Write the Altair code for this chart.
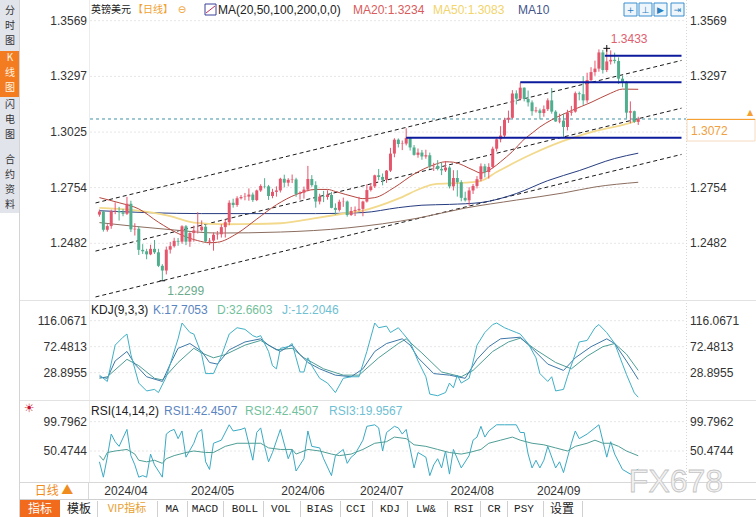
import altair as alt
import pandas as pd

# ---------------- data ----------------
OPEN = [1.2622,
 1.2637, 1.2548, 1.2566, 1.2638, 1.2640, 1.2633, 1.2626, 1.2675, 1.2550, 1.2553, 1.2450, 1.2443, 1.2428, 1.2455, 1.2438, 1.2372, 1.2349, 1.2451, 1.2468, 1.2494, 1.2490, 1.2565,
 1.2490, 1.2532, 1.2545, 1.2546, 1.2563, 1.2491, 1.2495, 1.2524, 1.2526, 1.2561, 1.2585, 1.2680, 1.2669, 1.2702, 1.2708, 1.2710, 1.2720, 1.2693, 1.2740, 1.2762, 1.2760, 1.2713, 1.2733,
 1.2740, 1.2797, 1.2778, 1.2792, 1.2794, 1.2723, 1.2729, 1.2744, 1.2796, 1.2766, 1.2686, 1.2710, 1.2708, 1.2718, 1.2655, 1.2645, 1.2685, 1.2686, 1.2620, 1.2640,
 1.2645, 1.2650, 1.2686, 1.2742, 1.2760, 1.2814, 1.2806, 1.2792, 1.2837, 1.2920, 1.2988, 1.2967, 1.2969, 1.2997, 1.2950, 1.2914, 1.2925, 1.2906, 1.2912, 1.2858, 1.2860, 1.2845, 1.2838,
 1.2852, 1.2760, 1.2801, 1.2780, 1.2704, 1.2692, 1.2740, 1.2762, 1.2795, 1.2858, 1.2830, 1.2855, 1.2944, 1.2990, 1.3008, 1.3085, 1.3095, 1.3214, 1.3188, 1.3242, 1.3187, 1.3170,
 1.3127, 1.3131, 1.3118, 1.3137, 1.3180, 1.3125, 1.3077, 1.3081, 1.3050, 1.3120, 1.3125, 1.3215, 1.3210, 1.3180, 1.3279, 1.3318, 1.3335, 1.3414, 1.3328, 1.3370, 1.3378,
 1.3372, 1.3286, 1.3270, 1.3120, 1.3127, 1.3075]
HIGH = [1.2647,
 1.2640, 1.2575, 1.2646, 1.2682, 1.2660, 1.2650, 1.2709, 1.2690, 1.2580, 1.2565, 1.2478, 1.2455, 1.2475, 1.2498, 1.2455, 1.2380, 1.2466, 1.2489, 1.2509, 1.2508, 1.2570, 1.2571,
 1.2536, 1.2568, 1.2634, 1.2594, 1.2575, 1.2508, 1.2535, 1.2542, 1.2575, 1.2598, 1.2692, 1.2700, 1.2712, 1.2718, 1.2728, 1.2750, 1.2730, 1.2744, 1.2770, 1.2800, 1.2767, 1.2748, 1.2760,
 1.2802, 1.2817, 1.2800, 1.2818, 1.2802, 1.2736, 1.2759, 1.2860, 1.2815, 1.2785, 1.2724, 1.2738, 1.2741, 1.2733, 1.2677, 1.2695, 1.2705, 1.2691, 1.2660, 1.2662,
 1.2709, 1.2690, 1.2770, 1.2775, 1.2817, 1.2845, 1.2823, 1.2840, 1.2948, 1.2995, 1.2994, 1.2984, 1.3044, 1.3000, 1.2962, 1.2945, 1.2938, 1.2939, 1.2925, 1.2875, 1.2888, 1.2877, 1.2884,
 1.2859, 1.2839, 1.2839, 1.2790, 1.2734, 1.2756, 1.2772, 1.2810, 1.2872, 1.2870, 1.2873, 1.2954, 1.2995, 1.3054, 1.3095, 1.3130, 1.3230, 1.3229, 1.3266, 1.3243, 1.3228, 1.3180,
 1.3148, 1.3140, 1.3155, 1.3190, 1.3240, 1.3132, 1.3115, 1.3115, 1.3134, 1.3153, 1.3223, 1.3223, 1.3298, 1.3315, 1.3342, 1.3374, 1.3429, 1.3426, 1.3434, 1.3424, 1.3413,
 1.3390, 1.3302, 1.3275, 1.3175, 1.3130, 1.3100]
LOW = [1.2612,
 1.2539, 1.2539, 1.2553, 1.2624, 1.2593, 1.2614, 1.2620, 1.2537, 1.2520, 1.2425, 1.2430, 1.2404, 1.2424, 1.2430, 1.2366, 1.2299, 1.2330, 1.2432, 1.2461, 1.2470, 1.2480, 1.2473,
 1.2465, 1.2490, 1.2530, 1.2540, 1.2487, 1.2473, 1.2446, 1.2500, 1.2510, 1.2510, 1.2570, 1.2656, 1.2660, 1.2696, 1.2692, 1.2690, 1.2684, 1.2688, 1.2733, 1.2750, 1.2694, 1.2702, 1.2710,
 1.2730, 1.2755, 1.2760, 1.2776, 1.2709, 1.2695, 1.2700, 1.2736, 1.2758, 1.2656, 1.2672, 1.2683, 1.2695, 1.2653, 1.2622, 1.2637, 1.2660, 1.2612, 1.2616, 1.2615,
 1.2638, 1.2614, 1.2681, 1.2735, 1.2752, 1.2790, 1.2765, 1.2777, 1.2830, 1.2902, 1.2950, 1.2937, 1.2960, 1.2935, 1.2910, 1.2900, 1.2890, 1.2895, 1.2845, 1.2835, 1.2838, 1.2815, 1.2830,
 1.2750, 1.2740, 1.2710, 1.2687, 1.2686, 1.2665, 1.2723, 1.2750, 1.2785, 1.2804, 1.2798, 1.2848, 1.2930, 1.2975, 1.3000, 1.3070, 1.3090, 1.3160, 1.3180, 1.3175, 1.3150, 1.3105,
 1.3120, 1.3087, 1.3100, 1.3128, 1.3115, 1.3075, 1.3068, 1.3002, 1.3033, 1.3105, 1.3120, 1.3180, 1.3158, 1.3168, 1.3272, 1.3300, 1.3320, 1.3311, 1.3318, 1.3355, 1.3360,
 1.3260, 1.3244, 1.3091, 1.3068, 1.3070, 1.3060]
CLOSE = [1.2637,
 1.2548, 1.2566, 1.2638, 1.2640, 1.2633, 1.2626, 1.2675, 1.2550, 1.2553, 1.2450, 1.2443, 1.2428, 1.2455, 1.2438, 1.2372, 1.2349, 1.2451, 1.2468, 1.2494, 1.2490, 1.2565, 1.2490,
 1.2532, 1.2545, 1.2546, 1.2563, 1.2491, 1.2495, 1.2524, 1.2526, 1.2561, 1.2585, 1.2680, 1.2669, 1.2702, 1.2708, 1.2710, 1.2720, 1.2693, 1.2740, 1.2762, 1.2760, 1.2713, 1.2733, 1.2740,
 1.2797, 1.2778, 1.2792, 1.2794, 1.2723, 1.2729, 1.2744, 1.2796, 1.2766, 1.2686, 1.2710, 1.2708, 1.2718, 1.2655, 1.2645, 1.2685, 1.2686, 1.2620, 1.2640, 1.2645,
 1.2650, 1.2686, 1.2742, 1.2760, 1.2814, 1.2806, 1.2792, 1.2837, 1.2920, 1.2988, 1.2967, 1.2969, 1.2997, 1.2950, 1.2914, 1.2925, 1.2906, 1.2912, 1.2858, 1.2860, 1.2845, 1.2838, 1.2852,
 1.2760, 1.2801, 1.2780, 1.2704, 1.2692, 1.2740, 1.2762, 1.2795, 1.2858, 1.2830, 1.2855, 1.2944, 1.2990, 1.3008, 1.3085, 1.3095, 1.3214, 1.3188, 1.3242, 1.3187, 1.3170, 1.3127,
 1.3131, 1.3118, 1.3137, 1.3180, 1.3125, 1.3077, 1.3081, 1.3050, 1.3120, 1.3125, 1.3215, 1.3210, 1.3180, 1.3279, 1.3318, 1.3335, 1.3414, 1.3328, 1.3370, 1.3378, 1.3372,
 1.3286, 1.3270, 1.3120, 1.3127, 1.3075, 1.3089]

MONTH_LABELS = ["2024/04", "2024/05", "2024/06", "2024/07", "2024/08", "2024/09"]
MONTH_IDX = [1, 23, 46, 66, 89, 111]

PRICE_TICKS = [1.3569, 1.3297, 1.3025, 1.2754, 1.2482]
PRICE_LABELS = ["1.3569", "1.3297", "1.3025", "1.2754", "1.2482"]
KDJ_TICKS = [116.0671, 72.4813, 28.8955]
KDJ_LABELS = ["116.0671", "72.4813", "28.8955"]
RSI_TICKS = [99.7962, 50.4744]
RSI_LABELS = ["99.7962", "50.4744"]

MA20_D = [0, 5, 10, 15, 20, 25, 28, 30, 35, 40, 45, 50, 55, 58, 60, 65, 67, 70, 75, 80, 85, 88, 90, 95, 97, 100, 102, 105, 108, 110, 112, 115, 120, 125, 130, 133, 137]
MA20_V = [1.2705, 1.2680, 1.2650, 1.2585, 1.2530, 1.2495, 1.2485, 1.2487, 1.2530, 1.2600, 1.2670, 1.2720, 1.2745, 1.2745, 1.2735, 1.2708, 1.2700, 1.2705, 1.2755, 1.2820,
          1.2865, 1.2880, 1.2878, 1.2840, 1.2825, 1.2850, 1.2880, 1.2930, 1.2990, 1.3020, 1.3050, 1.3085, 1.3130, 1.3170, 1.3215, 1.3235, 1.3234]
MA50_D = [0, 8, 18, 24, 32, 46, 55, 63, 67, 76, 82, 85, 93, 97, 101, 110, 118, 126, 135, 137]
MA50_V = [1.2655, 1.2645, 1.2615, 1.2583, 1.2575, 1.2580, 1.2605, 1.2630, 1.2642, 1.2700, 1.2752, 1.2770, 1.2778, 1.2787, 1.2830, 1.2918, 1.2982, 1.3030, 1.3070, 1.3083]
MA100_D = [0, 26, 38, 55, 67, 76, 82, 89, 97, 106, 114, 122, 131, 137]
MA100_V = [1.2641, 1.2627, 1.2627, 1.2627, 1.2632, 1.2656, 1.2668, 1.2672, 1.2681, 1.2725, 1.2788, 1.2837, 1.2896, 1.2922]
MA200_D = [0, 19, 30, 46, 63, 81, 93, 106, 118, 126, 137]
MA200_V = [1.2583, 1.2547, 1.2532, 1.2537, 1.2557, 1.2605, 1.2654, 1.2693, 1.2728, 1.2757, 1.2780]

CHANNEL_D = [-1, 148]
CHANNEL_A = [1.2679, 1.3375]
CHANNEL_B = [1.2444, 1.3142]
CHANNEL_C = [1.2220, 1.2916]

LEVEL_P = [1.3398, 1.3268, 1.2998]
LEVEL_START = [128.5, 107, 78]
LEVEL_END = [148, 148, 148]
LAST_LINE = 1.3089

K_D = [0, 2, 4, 7, 9, 12, 16, 18, 20, 23, 26, 28, 30, 33, 37, 41, 43, 46, 48, 49, 51, 53, 56, 60, 64, 67, 70, 73, 77, 79, 81, 85, 89, 93, 96, 99, 102, 107, 110, 114, 118, 121, 125, 129, 131, 134, 137]
K_V = [22, 19.5, 48.6, 64.5, 43.3, 22.1, 14.2, 43.3, 69.8, 77.8, 64.5, 46, 43.3, 67.2, 80.4, 85.7, 75.1, 64.5, 72.5, 75.1, 59.2, 46, 35.4, 24.8, 22.1, 35.4, 64.5, 77.8, 85.7, 75.1,
       53.9, 27.4, 24.8, 19.5, 51.3, 72.5, 85.7, 88.4, 69.8, 43.3, 32.7, 53.9, 72.5, 85.7, 77.8, 48.6, 17.7053]
D_D = [0, 2, 7, 10, 14, 16, 20, 24, 26, 29, 32, 37, 41, 45, 49, 52, 57, 62, 66, 71, 76, 78, 82, 87, 92, 95, 100, 104, 107, 111, 116, 120, 124, 128, 131, 134, 137]
D_V = [19.5, 22.1, 51.3, 40.7, 19.5, 16.8, 46, 69.8, 61.9, 53.9, 59.2, 75.1, 83, 67.2, 69.8, 53.9, 35.4, 24.8, 24.8, 53.9, 77.8, 85.7, 61.9, 30.1, 22.1, 32.7, 64.5, 80.4, 86.8, 67.2,
       46, 35.4, 56.6, 72.5, 77.8, 60, 32.6603]
J_D = [0, 2, 4, 6, 7, 8, 10, 12, 14, 15, 17, 20, 21, 23, 24, 26, 27, 29, 31, 33, 35, 37, 39, 40, 41, 43, 44, 45, 46, 48, 49, 50, 51, 52, 53, 54, 56, 58, 60, 62, 64, 66, 68, 70, 71,
       73, 74, 76, 77, 79, 81, 83, 84, 86, 88, 89, 90, 91, 92, 94, 96, 98, 100, 101, 103, 104, 106, 107, 109, 111, 112, 114, 115, 116, 118, 119, 122, 124, 126, 127, 129, 131, 134, 136, 137]
J_V = [24.8, 14.2, 75.1, 88.4, 93.7, 59.2, 11.5, -1.7, 0.9, -4.4, 22.1, 85.7, 112.2, 96.3, 93.7, 59.2, 27.4, 27.4, 56.6, 93.7, 104.3, 101.6, 91, 88.4, 91, 64.5, 40.7, 35.4, 69.8,
       72.5, 77.8, 53.9, 30.1, 30.1, 53.9, 40.7, 19.5, 11.5, -4.4, 19.5, 22.1, 22.1, 64.5, 112.2, 104.3, 107, 96.3, 104.3, 96.3, 80.4, 48.6, 22.1, -7, -9.7, -4.4, 11.5, 3.6,
       24.8, 11.5, 19.5, 75.1, 96.3, 109.6, 112.2, 104.3, 101.6, 96.3, 93.7, 77.8, 53.9, 27.4, 14.2, 22.1, -1.7, 0.9, 22.1, 80.4, 83, 104.3, 109.6, 96, 78, 26, -5, -12.2046]

RSI1_D = [0, 1, 2, 4, 7, 9, 10, 12, 14, 16, 17, 19, 22, 24, 27, 29, 32, 35, 38, 41, 43, 46, 49, 50, 53, 56, 59, 61, 64, 67, 70, 73, 75, 78, 80, 83, 86, 89, 92, 94, 97, 99,
          102, 105, 107, 110, 113, 116, 119, 121, 124, 126, 128, 130, 132, 134, 137]
RSI1_V = [42.7, 34.9, 47.9, 50.5, 53.1, 45.3, 34.9, 32.3, 34.9, 29.7, 37.5, 42.7, 47.9, 50.5, 47.9, 47.9, 58.3, 63.5, 63.5, 63.5, 55.7, 53.1, 53.1, 45.3, 53.1, 50.5, 45.3,
          42.7, 45.3, 53.1, 63.5, 66.1, 73.9, 71.3, 60.9, 58.3, 53.1, 47.9, 45.3, 47.9, 53.1, 63.5, 68.7, 73.9, 68.7, 63.5, 60.9, 55.7, 50.5, 58.3, 63.5, 68.7, 63.5, 63.5,
          58.3, 50.5, 42.4507]
RSI3_D = [0, 1, 2, 3, 4, 5, 7, 8, 9, 10, 11, 12, 13, 14, 16, 17, 18, 19, 20, 21, 22, 24, 25, 26, 27, 28, 29, 31, 33, 34, 36, 37, 39, 40, 41, 42, 43, 44, 46, 48, 49, 50, 52,
          53, 54, 56, 57, 59, 60, 62, 63, 64, 65, 67, 68, 70, 71, 72, 73, 75, 76, 77, 78, 80, 81, 83, 84, 85, 86, 87, 88, 89, 90, 92, 94, 95, 96, 97, 98, 99, 101, 103, 106,
          107, 108, 109, 110, 111, 112, 113, 114, 116, 117, 118, 120, 121, 122, 124, 126, 127, 129, 130, 131, 133, 135, 137]
RSI3_V = [32.3, 6.4, 40.1, 79, 66.1, 58.3, 86.8, 42.7, 27.1, 6.4, 9, 6.4, 45.3, 27.1, 6.4, 79, 84.2, 86.8, 71.3, 84.2, 40.1, 63.5, 81.6, 86.8, 32.3, 19.4, 63.5, 68.7, 94.6,
          84.2, 86.8, 89.4, 35, 81.6, 89.4, 58.3, 32.3, 47.9, 86.8, 37.5, 53.1, 16.8, 37.5, 84.2, 58.3, 55.7, 37.5, 9, 42.7, 53.1, 29.7, 40.1, 45.3, 68.7, 92, 94.6, 89.4,
          50.5, 81.6, 92, 89.4, 79, 86.8, 22, 47.9, 40.1, 9, 27.1, 37.5, 22, 50.5, 11.6, 53.1, 22, 42.7, 68.7, 73.9, 92, 73.9, 84.2, 94.6, 94.6, 94.6, 81.6, 81.6, 45.3, 22,
          34.9, 22, 34.9, 58.3, 22, 32.3, 14.2, 63.5, 84.2, 71.3, 79, 89.4, 94.6, 40.1, 66.1, 45.3, 19.4, 11.6, 19.9567]

SIDEBAR_GROUPS = [["分", "时", "图"], ["K", "线", "图"], ["闪", "电", "图"], ["合", "约", "资", "料"]]
SIDEBAR_TOPS = [6, 53, 100, 155]

# ---------------- styling ----------------
UP = "#e5566c"
DOWN = "#4fae8d"
NUM_FONT = "Liberation Sans"
CJK_FONT = "Noto Sans CJK SC"
TAB_FONT = "Liberation Mono"

xs = alt.Scale(domain=[-1, 148], range=[90.5, 686.5], zero=False, nice=False)
ms = alt.Scale(domain=[1.2482, 1.3569], range=[243.3, 20.7], zero=False, nice=False)
ks = alt.Scale(domain=[28.8955, 116.0671], range=[372.7, 320.7], zero=False, nice=False)
rs = alt.Scale(domain=[50.4744, 99.7962], range=[451, 421.7], zero=False, nice=False)

ONE = pd.DataFrame({"k": [0]})


def XD(f="d"):
    return alt.X(f, type="quantitative", scale=xs, axis=None)


def YS(f, sc):
    return alt.Y(f, type="quantitative", scale=sc, axis=None)


def T(x, y, s, color="#333333", size=12, font=NUM_FONT, align="left", baseline="middle", **kw):
    return alt.Chart(ONE).mark_text(text=s, color=color, fontSize=size, font=font,
                                    align=align, baseline=baseline, **kw).encode(
        x=alt.value(x), y=alt.value(y))


def R(x1, y1, x2, y2, fill, stroke=None, sw=1):
    kw = {"fill": fill}
    if stroke is not None:
        kw["stroke"] = stroke
        kw["strokeWidth"] = sw
    return alt.Chart(ONE).mark_rect(**kw).encode(
        x=alt.value(x1), x2=alt.value(x2), y=alt.value(y1), y2=alt.value(y2))


def L(x1, y1, x2, y2, color, sw=1, dash=None):
    kw = {"color": color, "strokeWidth": sw}
    if dash is not None:
        kw["strokeDash"] = dash
    return alt.Chart(ONE).mark_rule(**kw).encode(
        x=alt.value(x1), x2=alt.value(x2), y=alt.value(y1), y2=alt.value(y2))


layers = []

# ---------------- frame / separators ----------------
layers += [
    R(0, 0, 19, 213, "#e2e4ec"),
    R(0, 51, 19, 97, "#f47c20"),
    L(19.5, 0, 19.5, 517, "#d4d4d4"),
    L(89.5, 0, 89.5, 482, "#ececec"),
    L(686.5, 0, 686.5, 482, "#d6d6d6", 1, [1, 2]),
    L(20, 300.5, 756, 300.5, "#e2e2e2"),
    L(20, 400.5, 756, 400.5, "#e2e2e2"),
    L(20, 482.5, 756, 482.5, "#d8d8d8"),
    L(20, 499.5, 756, 499.5, "#d0d0d0"),
    L(88.5, 482, 88.5, 499, "#d8d8d8"),
]

# grid lines and axis labels
pt = pd.DataFrame({"p": PRICE_TICKS, "lab": PRICE_LABELS})
kt = pd.DataFrame({"p": KDJ_TICKS, "lab": KDJ_LABELS})
rt = pd.DataFrame({"p": RSI_TICKS, "lab": RSI_LABELS})
for df, sc in [(pt, ms), (kt, ks), (rt, rs)]:
    layers.append(alt.Chart(df).mark_rule(color="#e6e6e6", strokeDash=[2, 2]).encode(
        y=YS("p", sc), x=alt.value(90), x2=alt.value(686)))
    layers.append(alt.Chart(df).mark_text(align="right", baseline="middle", fontSize=12,
                                          font=NUM_FONT, color="#333333").encode(
        y=YS("p", sc), x=alt.value(87), text="lab:N"))
    layers.append(alt.Chart(df).mark_text(align="left", baseline="middle", fontSize=12,
                                          font=NUM_FONT, color="#333333").encode(
        y=YS("p", sc), x=alt.value(690), text="lab:N"))

# current price dashed line
lastdf = pd.DataFrame({"p": [LAST_LINE]})
layers.append(alt.Chart(lastdf).mark_rule(color="#3f93a6", strokeDash=[3, 3], strokeWidth=1).encode(
    y=YS("p", ms), x=alt.value(90), x2=alt.value(686)))

# channel lines
chdf = pd.DataFrame({"d": CHANNEL_D * 3, "p": CHANNEL_A + CHANNEL_B + CHANNEL_C,
                     "g": ["A", "A", "B", "B", "C", "C"]})
layers.append(alt.Chart(chdf).mark_line(color="#1a1a1a", strokeWidth=1, strokeDash=[4, 3]).encode(
    x=XD(), y=YS("p", ms), detail="g:N"))

# moving averages
for D, V, col, w in [(MA200_D, MA200_V, "#8c6e60", 1), (MA100_D, MA100_V, "#263c80", 1),
                     (MA50_D, MA50_V, "#f2d98c", 1.8), (MA20_D, MA20_V, "#b5473f", 1)]:
    df = pd.DataFrame({"d": D, "v": V})
    layers.append(alt.Chart(df).mark_line(color=col, strokeWidth=w, interpolate="monotone").encode(
        x=XD(), y=YS("v", ms)))

# candles
cd = pd.DataFrame({"d": list(range(len(CLOSE))), "open": OPEN, "high": HIGH, "low": LOW, "close": CLOSE})
cd["dir"] = ["up" if c >= o else "down" for o, c in zip(OPEN, CLOSE)]
cenc = alt.Color("dir:N", scale=alt.Scale(domain=["up", "down"], range=[UP, DOWN]), legend=None)
layers.append(alt.Chart(cd).mark_rule(strokeWidth=1).encode(
    x=XD(), y=YS("low", ms), y2="high:Q", color=cenc))
layers.append(alt.Chart(cd).mark_bar(size=3).encode(
    x=XD(), y=YS("open", ms), y2="close:Q", color=cenc))

# horizontal support / resistance lines
lv = pd.DataFrame({"d0": LEVEL_START, "d1": LEVEL_END, "p": LEVEL_P})
layers.append(alt.Chart(lv).mark_rule(color="#0c1a9c", strokeWidth=2).encode(
    x=XD("d0"), x2="d1:Q", y=YS("p", ms)))

# high / low annotations
hi = pd.DataFrame({"d": [129], "p": [1.3434], "t": ["1.3433"]})
lo = pd.DataFrame({"d": [16], "p": [1.2299], "t": ["1.2299"], "d0": [15.3], "d1": [16.7]})
layers.append(alt.Chart(hi).mark_text(align="left", baseline="middle", fontSize=12, font=NUM_FONT,
                                      color="#e0606e", dx=4, dy=-9).encode(x=XD(), y=YS("p", ms), text="t:N"))
layers.append(alt.Chart(hi).mark_point(shape="M-1,0L1,0M0,-1L0,1", size=45, color="#111111",
                                       strokeWidth=1, filled=False, opacity=1).encode(x=XD(), y=YS("p", ms)))
layers.append(alt.Chart(lo).mark_text(align="left", baseline="middle", fontSize=12, font=NUM_FONT,
                                      color="#6aaa8c", dx=5, dy=10).encode(x=XD(), y=YS("p", ms), text="t:N"))
layers.append(alt.Chart(lo).mark_rule(color="#111111", strokeWidth=1).encode(
    x=XD("d0"), x2="d1:Q", y=YS("p", ms)))

# KDJ panel
for D, V, col in [(D_D, D_V, "#4f9e96"), (K_D, K_V, "#3f78a8"), (J_D, J_V, "#3fb0c6")]:
    df = pd.DataFrame({"d": D, "v": V})
    layers.append(alt.Chart(df).mark_line(color=col, strokeWidth=1).encode(x=XD(), y=YS("v", ks)))

# RSI panel
for D, V, col in [(RSI3_D, RSI3_V, "#3aaac4"), (RSI1_D, RSI1_V, "#4f9e96")]:
    df = pd.DataFrame({"d": D, "v": V})
    layers.append(alt.Chart(df).mark_line(color=col, strokeWidth=1).encode(x=XD(), y=YS("v", rs)))

# month labels
mdf = pd.DataFrame({"d": MONTH_IDX, "t": MONTH_LABELS})
layers.append(alt.Chart(mdf).mark_text(align="left", baseline="middle", fontSize=12, font=NUM_FONT,
                                       color="#333333", dx=1).encode(x=XD(), y=alt.value(491), text="t:N"))

# ---------------- titles / UI text ----------------
layers += [
    T(91, 10, "英镑美元", "#222222", 10, CJK_FONT),
    T(133, 10, "【日线】", "#f0a030", 10, CJK_FONT),
    T(182, 10, "⊖", "#f0a030", 10, "DejaVu Sans", "center"),
    R(205, 4, 216, 15, "#ffffff", "#3b3f9a", 1),
    L(206, 13, 215, 6, "#c03060", 1),
    T(218, 10, "MA(20,50,100,200,0,0)", "#222222", 12),
    T(353, 10, "MA20:1.3234", "#d95b5b", 12),
    T(433, 10, "MA50:1.3083", "#f2d46b", 12),
    T(518, 10, "MA10", "#44558a", 12),
    T(91, 310, "KDJ(9,3,3)", "#222222", 12),
    T(153, 310, "K:17.7053", "#5b85c0", 12),
    T(217, 310, "D:32.6603", "#72bf9c", 12),
    T(282, 310, "J:-12.2046", "#6fc0d2", 12),
    T(91, 411, "RSI(14,14,2)", "#222222", 12),
    T(164, 411, "RSI1:42.4507", "#5b85c0", 12),
    T(245, 411, "RSI2:42.4507", "#72bf9c", 12),
    T(329, 411, "RSI3:19.9567", "#6fc0d2", 12),
    T(29, 408, "☀", "#c8102e", 12, "DejaVu Sans", "center"),
]

# top-right icon buttons
for x0, g in [(624, "+"), (639, "⊥"), (654, "▶"), (671, "⇥")]:
    layers.append(R(x0, 3, x0 + 13, 16, "#eef6fc", "#3a8fd0", 1))
    layers.append(T(x0 + 6.5, 9.5, g, "#2a7fc0", 9, "DejaVu Sans", "center"))

# current price tag on the right
layers += [
    R(687, 119, 755, 141, "#ffffff", "#f6dcc0", 1),
    L(687, 119.5, 755, 119.5, "#f5a030", 1),
    T(691, 131, "1.3072", "#f0a040", 12),
    T(750, 113, "▲", "#f5a030", 8, "DejaVu Sans", "center"),
]

# sidebar (vertical menu, one multi-line text per item)
for grp, top in zip(SIDEBAR_GROUPS, SIDEBAR_TOPS):
    col = "#fff4e0" if grp[0] == "K" else "#333333"
    layers.append(alt.Chart(ONE).mark_text(text=grp, color=col, fontSize=10, font=CJK_FONT,
                                           align="center", baseline="top", lineHeight=15).encode(
        x=alt.value(10), y=alt.value(top)))

# bottom bar
layers += [
    T(54, 491, "日线 ▲", "#f08c1e", 12, CJK_FONT, "center"),
    R(20, 500, 60, 517, "#f26a1b"),
    T(40, 509, "指标", "#ffffff", 12, CJK_FONT, "center"),
    T(79, 509, "模板", "#222222", 12, CJK_FONT, "center"),
    T(127, 509, "VIP指标", "#e8a030", 11, CJK_FONT, "center"),
]
for cx, s in [(172, "MA"), (205, "MACD"), (245, "BOLL"), (281, "VOL"), (320, "BIAS"), (356, "CCI"),
              (390, "KDJ"), (426, "LW&"), (464, "RSI"), (494, "CR"), (524, "PSY")]:
    layers.append(T(cx, 509, s, "#222222", 11, TAB_FONT, "center"))
layers.append(T(562, 509, "设置", "#222222", 12, CJK_FONT, "center"))
for sx in [97.5, 157.5, 187.5, 223.5, 263.5, 300.5, 340.5, 372.5, 407.5, 447.5, 480.5, 507.5, 543.5, 582.5]:
    layers.append(L(sx, 501, sx, 517, "#d0d0d0"))

# watermark
layers.append(alt.Chart(ONE).mark_text(text="FX678", fontSize=32, font=NUM_FONT, fill="#f2f2f2",
                                       stroke="#c4c4c4", strokeWidth=0.8, align="center",
                                       baseline="middle").encode(x=alt.value(676), y=alt.value(482)))

chart = alt.layer(*layers).resolve_scale(y="independent").properties(
    width=756, height=517, padding=0,
    autosize=alt.AutoSizeParams(type="none"),
    background="white",
).configure_view(stroke=None)

chart.save("out.html", embed_options={"renderer": "svg", "actions": False})
